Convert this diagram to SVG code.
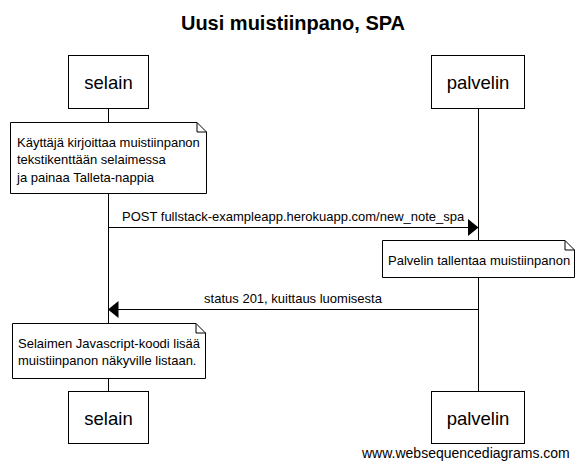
<svg xmlns="http://www.w3.org/2000/svg" width="583" height="469" viewBox="0 0 583 469">
<style>
.box{fill:#fff;stroke:#000;stroke-width:1}
.note{fill:#fff;stroke:#000;stroke-width:1}
.life{stroke:#000;stroke-width:1}
.msg{stroke:#000;stroke-width:1;fill:none}
.head{fill:#000;stroke:none}
text{font-family:"Liberation Sans",Arial,sans-serif;fill:#000}
.actor{font-size:18.5px;text-anchor:middle}
.t13{font-size:13px}
.title{font-size:20px;font-weight:bold;text-anchor:middle}
</style>
<rect width="583" height="469" fill="#fff"/>
<text class="title" x="293" y="30">Uusi muistiinpano, SPA</text>
<g id="lifelines">
<line class="life" x1="108.5" y1="108" x2="108.5" y2="392"/>
<line class="life" x1="478.5" y1="108" x2="478.5" y2="392"/>
</g>
<g id="selain-top">
<rect class="box" x="68.5" y="55.5" width="80" height="53"/>
<text class="actor" x="108.5" y="89">selain</text>
</g>
<g id="palvelin-top">
<rect class="box" x="431.5" y="55.5" width="93" height="53"/>
<text class="actor" x="478" y="89">palvelin</text>
</g>
<g id="connectors">
<line class="msg" x1="108.5" y1="227.5" x2="469" y2="227.5"/>
<polygon class="head" points="468,219 478.5,227.5 468,236"/>
<text class="t13" x="122" y="221">POST fullstack-exampleapp.herokuapp.com/new_note_spa</text>
<line class="msg" x1="118" y1="309.5" x2="478.5" y2="309.5"/>
<polygon class="head" points="118.5,301 108,309.5 118.5,318"/>
<text class="t13" x="293" y="303" text-anchor="middle">status 201, kuittaus luomisesta</text>
</g>
<g id="note1">
<path class="note" d="M10.5,122.5 H197 L206.5,132 V193.5 H10.5 Z M197,122.5 V132 H206.5"/>
<text class="t13" x="17" y="146.5">Käyttäjä kirjoittaa muistiinpanon</text>
<text class="t13" x="17" y="164">tekstikenttään selaimessa</text>
<text class="t13" x="17" y="181.5">ja painaa Talleta-nappia</text>
</g>
<g id="note2">
<path class="note" d="M382.5,240.5 H565 L574.5,250 V277.5 H382.5 Z M565,240.5 V250 H574.5"/>
<text class="t13" x="388" y="265">Palvelin tallentaa muistiinpanon</text>
</g>
<g id="note3">
<path class="note" d="M12.5,323.5 H196 L205.5,333 V378.5 H12.5 Z M196,323.5 V333 H205.5"/>
<text class="t13" x="18" y="347.5">Selaimen Javascript-koodi lisää</text>
<text class="t13" x="18" y="365">muistiinpanon näkyville listaan.</text>
</g>
<g id="selain-bottom">
<rect class="box" x="68.5" y="391.5" width="80" height="52"/>
<text class="actor" x="108.5" y="425">selain</text>
</g>
<g id="palvelin-bottom">
<rect class="box" x="431.5" y="391.5" width="93" height="52"/>
<text class="actor" x="478" y="425">palvelin</text>
</g>
<text x="362" y="458" style="font-size:14px">www.websequencediagrams.com</text>
</svg>
